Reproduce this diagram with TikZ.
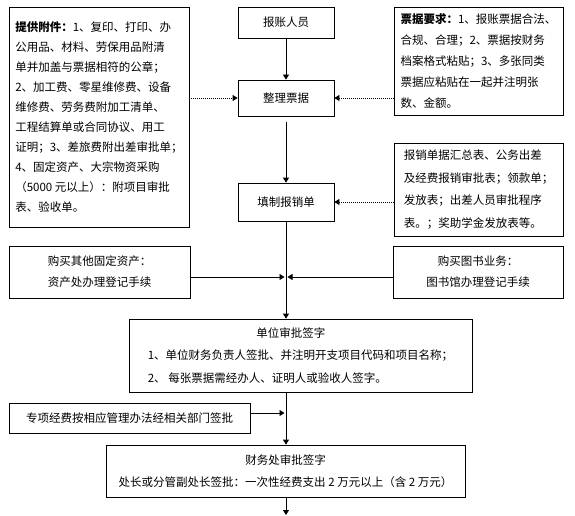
\documentclass[tikz,border=0pt]{standalone}
\usepackage{fontspec}
\setmainfont{Noto Sans CJK SC}
\usetikzlibrary{arrows.meta,calc}
\begin{document}
\begin{tikzpicture}[x=1pt,y=-1pt,
  box/.style={draw,line width=0.8pt,inner sep=0pt,font=\fontsize{11.5}{20}\selectfont},
  arr/.style={line width=0.8pt,-{Triangle[width=6pt,length=5pt]}},
  darr/.style={arr,dash pattern=on 1pt off 1pt}]
\useasboundingbox[fill=white] (0,0) rectangle (575,516);

% main column
\node[box,minimum width=96pt,minimum height=31pt] (bz) at (286,22.5) {报账人员};
\node[box,minimum width=96pt,minimum height=36pt] (zl) at (286,98) {整理票据};
\node[box,minimum width=96pt,minimum height=38pt] (tz) at (286,202) {填制报销单};

% side boxes
\node[box,minimum width=180pt,minimum height=220pt,align=left] (fj) at (99,117)
 {\textbf{提供附件：}1、复印、打印、办\\
  公用品、材料、劳保用品附清\\
  单并加盖与票据相符的公章；\\
  2、加工费、零星维修费、设备\\
  维修费、劳务费附加工清单、\\
  工程结算单或合同协议、用工\\
  证明；3、差旅费附出差审批单；\\
  4、固定资产、大宗物资采购\\
  （5000 元以上）：附项目审批\\
  表、验收单。};

\node[box,minimum width=169pt,minimum height=108pt,align=left,
      font=\fontsize{11.5}{21}\selectfont] (pj) at (478.5,61)
 {\textbf{票据要求：}1、报账票据合法、\\
  合规、合理；2、票据按财务\\
  档案格式粘贴；3、多张同类\\
  票据应粘贴在一起并注明张\\
  数、金额。};

\node[box,minimum width=169pt,minimum height=93pt,align=left,
      font=\fontsize{11.5}{22.5}\selectfont] (bx) at (478.5,189.5)
 {报销单据汇总表、公务出差\\
  及经费报销审批表；领款单；\\
  发放表；出差人员审批程序\\
  表。；奖助学金发放表等。};

\node[box,minimum width=181pt,minimum height=52pt,align=center,
      font=\fontsize{11.5}{21}\selectfont] (gm) at (99.5,272)
 {购买其他固定资产：\\资产处办理登记手续};

\node[box,minimum width=170pt,minimum height=52pt,align=center,
      font=\fontsize{11.5}{21}\selectfont] (ts) at (478,272)
 {购买图书业务：\\图书馆办理登记手续};

\node[box,minimum width=343pt,minimum height=73pt,align=left,
      font=\fontsize{11.5}{22.5}\selectfont] (dw) at (300.5,355.5)
 {\makebox[286pt][c]{单位审批签字}\\
  1、单位财务负责人签批、并注明开支项目代码和项目名称；\\
  2、 每张票据需经办人、证明人或验收人签字。};

\node[box,minimum width=241pt,minimum height=30pt] (zx) at (129.5,418)
 {专项经费按相应管理办法经相关部门签批};

\node[box,minimum width=359pt,minimum height=52pt,align=center,
      font=\fontsize{11.5}{22}\selectfont] (cw) at (285.5,471)
 {财务处审批签字\\
  处长或分管副处长签批：一次性经费支出 2 万元以上（含 2 万元）};

\coordinate (ja) at (286,277);
\coordinate (jb) at (286,413);
\coordinate (end) at (286,515);

% connectors
\draw[arr] (bz.south) -- (zl.north);
\draw[arr,shorten <=6pt] (zl.south) -- (tz.north);
\draw[arr] (tz.south) -- (tz.south |- dw.north);
\draw[arr] (dw.south -| tz.south) -- (tz.south |- cw.north);
\draw[arr] (cw.south -| tz.south) -- (end);

\draw[darr] (zl.west -| fj.east) -- (zl.west);
\draw[darr] (zl.east -| pj.west) -- (zl.east);
\draw[darr] (tz.east -| bx.west) -- (tz.east);

\draw[arr,shorten >=1.5pt] (gm.east |- ja) -- (ja);
\draw[arr,shorten >=1.5pt] (ts.west |- ja) -- (ja);
\draw[arr,shorten >=1.5pt] (zx.east |- jb) -- (jb);
\end{tikzpicture}
\end{document}
